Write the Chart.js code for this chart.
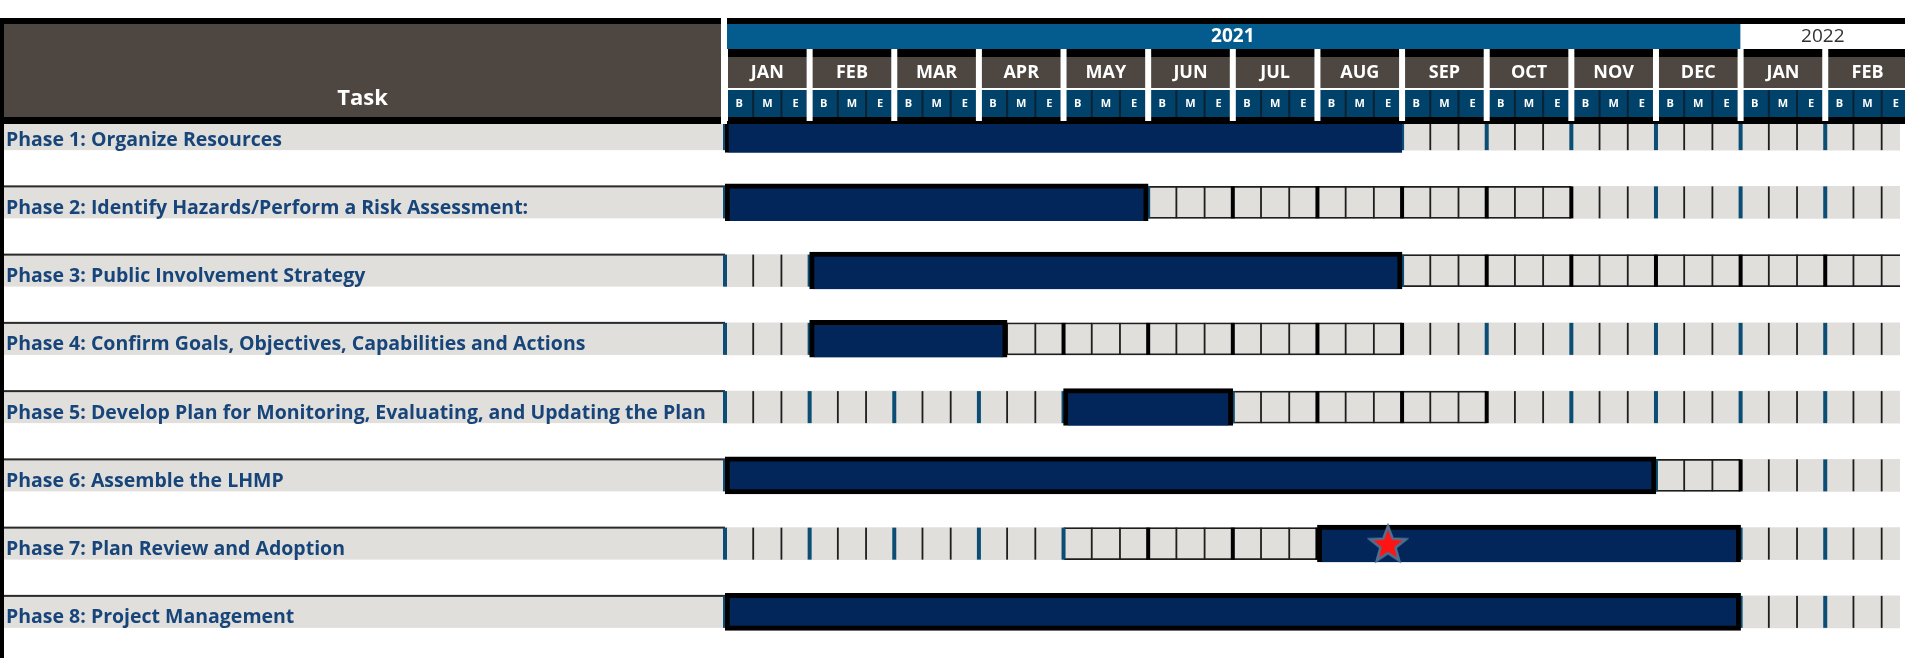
<!DOCTYPE html>
<html>
<head>
<meta charset="utf-8">
<script src="https://cdn.jsdelivr.net/npm/chart.js@4.4.1/dist/chart.umd.min.js"></script>
<style>
  html, body { margin: 0; padding: 0; background: #fff; }
  #wrap { width: 1905px; height: 658px; position: relative; }
</style>
</head>
<body>
<div id="wrap"><canvas id="chart"></canvas></div>
<script>
// time unit = one third of a month (B / M / E), counted from the start of Jan 2021
const phases = [
  'Phase 1: Organize Resources',
  'Phase 2: Identify Hazards/Perform a Risk Assessment:',
  'Phase 3: Public Involvement Strategy',
  'Phase 4: Confirm Goals, Objectives, Capabilities and Actions',
  'Phase 5: Develop Plan for Monitoring, Evaluating, and Updating the Plan',
  'Phase 6: Assemble the LHMP',
  'Phase 7: Plan Review and Adoption',
  'Phase 8: Project Management'
]
const monthLabels = ['JAN','FEB','MAR','APR','MAY','JUN','JUL','AUG','SEP','OCT','NOV','DEC','JAN','FEB']
const yearLabels = ['2021', '2022']
const periodLabels = ['B', 'M', 'E']
const taskStart = [0, 0, 3, 3, 12, 0, 21, 0]
const taskEnd   = [24, 15, 24, 10, 18, 33, 36, 36]
const openStart = [null, 15, 24, 10, 18, 33, 12, null]
const openEnd   = [null, 30, 42, 24, 27, 36, 21, null]
const milestonePhase = [phases[6]]
const milestoneAt = [23.5]
const visiblePeriods = 41.65

const NAVY = '#02255a'
const GRAY = '#e1dfdc'
const BROWN = '#4e4640'
const YEARBLUE = '#035b8e'
const BMEBLUE = '#01426a'
const LINEBLUE = '#0b4d74'
const TEXTBLUE = '#17457a'
const boxedRows = [5, 7]

function frameFor(i) {
    if (i === 0) return {left: 4, top: 0, right: 0, bottom: 0}
    if (boxedRows.includes(i)) return {left: 5, top: 5, right: 5, bottom: 5}
    return {left: 5, top: 5, right: 5, bottom: 0}
}

function starCanvas(size) {
    const c = document.createElement('canvas')
    c.width = size; c.height = size
    const g = c.getContext('2d')
    const cx = size / 2, cy = size / 2 + 1.5, R = size / 2 - 2, r = R * 0.42
    g.beginPath()
    for (let i = 0; i < 10; i++) {
        const a = -Math.PI / 2 + i * Math.PI / 5
        const rad = i % 2 ? r : R
        g.lineTo(cx + rad * Math.cos(a), cy + rad * Math.sin(a))
    }
    g.closePath()
    g.fillStyle = '#ff1414'
    g.fill()
    g.lineWidth = 2.5
    g.strokeStyle = '#4f7091'
    g.stroke()
    return c
}

const BAND = 32

const ganttPlugin = {
    id: 'gantt',
    beforeDraw(chart) {
        const {ctx, chartArea} = chart
        const ys = chart.scales.y
        ctx.save()
        ctx.fillStyle = '#fff'
        ctx.fillRect(0, 0, chart.width, chart.height)
        // label column bands
        phases.forEach((p, i) => {
            const y = ys.getPixelForValue(i)
            ctx.fillStyle = GRAY
            ctx.fillRect(4, y - BAND / 2, chartArea.left - 4, BAND)
            if (i > 0) {
                ctx.fillStyle = '#2a2a2a'
                ctx.fillRect(0, y - BAND / 2 - 1, chartArea.left, 2)
            }
        })
        ctx.fillStyle = '#000'
        ctx.fillRect(0, 18, 4, chart.height - 18)
        ctx.restore()
    },
    afterDatasetDraw(chart, args) {
        if (args.index !== 1) return
        const {ctx, chartArea} = chart
        const xs = chart.scales.x, ys = chart.scales.y
        ctx.save()
        phases.forEach((p, i) => {
            const y = ys.getPixelForValue(i)
            for (let k = 0; k <= 42; k++) {
                const x = xs.getPixelForValue(k)
                if (x > chartArea.right + 2) break
                const inOpen = openStart[i] !== null && k > openStart[i] && k <= openEnd[i]
                if (k % 3 === 0) {
                    ctx.fillStyle = inOpen ? '#000' : LINEBLUE
                    ctx.fillRect(x - 2, y - BAND / 2, 4, BAND)
                } else {
                    ctx.fillStyle = '#1e1e1e'
                    ctx.fillRect(x - 0.9, y - BAND / 2, 1.8, BAND)
                }
            }
        })
        ctx.restore()
    },
    afterDraw(chart) {
        const {ctx, chartArea} = chart
        const xs = chart.scales.x
        const R = chart.width
        const L = chartArea.left
        ctx.save()
        // label column header
        ctx.fillStyle = '#000'
        ctx.fillRect(0, 18, R, 6)
        ctx.fillStyle = BROWN
        ctx.fillRect(3, 24, L - 7, 93)
        ctx.fillStyle = '#000'
        ctx.fillRect(0, 24, 4, 100)
        ctx.fillRect(0, 117, L - 4, 7)
        ctx.fillStyle = '#fff'
        ctx.font = 'bold 22px "Open Sans"'
        ctx.textAlign = 'center'
        ctx.textBaseline = 'middle'
        ctx.fillText('Task', (L - 4) / 2 + 2, 99)

        // year band
        const yEnd = xs.getPixelForValue(36)
        ctx.fillStyle = '#000'
        ctx.fillRect(L + 2, 18, R - L, 6)
        ctx.fillStyle = YEARBLUE
        ctx.fillRect(L + 2, 24, yEnd - L - 2, 25)
        ctx.fillStyle = '#fff'
        ctx.fillRect(yEnd, 24, R - yEnd, 25)
        ctx.font = 'bold 19px "Open Sans"'
        ctx.fillText(yearLabels[0], (L + yEnd) / 2, 37)
        ctx.fillStyle = '#333'
        ctx.font = '19px "Open Sans"'
        ctx.fillText(yearLabels[1], (yEnd + R) / 2, 37)

        // month row + B/M/E row
        ctx.fillStyle = '#000'
        ctx.fillRect(L + 2, 49, R - L, 8)
        ctx.fillRect(L + 2, 117, R - L, 7)
        monthLabels.forEach((m, i) => {
            const x0 = xs.getPixelForValue(i * 3)
            const x1 = xs.getPixelForValue(i * 3 + 3)
            ctx.fillStyle = BROWN
            ctx.fillRect(x0, 57, x1 - x0, 31)
            ctx.fillStyle = BMEBLUE
            ctx.fillRect(x0, 90, x1 - x0, 27)
            ctx.fillStyle = '#fff'
            ctx.font = 'bold 18px "Open Sans"'
            ctx.fillText(m, (x0 + x1) / 2, 73)
            periodLabels.forEach((b, j) => {
                const c0 = xs.getPixelForValue(i * 3 + j)
                const c1 = xs.getPixelForValue(i * 3 + j + 1)
                if (j > 0) {
                    ctx.fillStyle = '#0c2233'
                    ctx.fillRect(c0 - 1, 90, 2, 27)
                }
                ctx.fillStyle = '#fff'
                ctx.font = 'bold 11px "Open Sans"'
                ctx.fillText(b, (c0 + c1) / 2, 104)
            })
        })
        // white separators between months
        ctx.fillStyle = '#fff'
        for (let i = 0; i <= monthLabels.length; i++) {
            const x = xs.getPixelForValue(i * 3)
            ctx.fillRect(x - 3, 49, 6, 72)
        }
        ctx.fillRect(L - 4, 18, 6, 106)
        ctx.restore()
    }
}

const ctx = document.getElementById('chart').getContext('2d')

const myChart = new Chart(ctx, {
    type: 'bar',
    data: {
        labels: phases,
        datasets: [
            {
                label: 'band',
                data: phases.map(() => [0, visiblePeriods]),
                backgroundColor: GRAY,
                borderWidth: 0,
                barThickness: BAND,
                grouped: false,
                order: 3
            },
            {
                label: 'open',
                data: phases.map((p, i) => openStart[i] === null ? null : [openStart[i], openEnd[i]]),
                backgroundColor: GRAY,
                borderColor: '#1e1e1e',
                borderWidth: {top: 1.6, bottom: 1.6, left: 0, right: 0},
                borderSkipped: false,
                barThickness: BAND,
                grouped: false,
                order: 2
            },
            {
                label: 'schedule',
                data: phases.map((p, i) => [taskStart[i], taskEnd[i]]),
                backgroundColor: NAVY,
                borderColor: '#000',
                borderWidth: c => frameFor(c.dataIndex),
                borderSkipped: false,
                barThickness: 37,
                grouped: false,
                order: 1
            },
            {
                type: 'scatter',
                label: 'milestone',
                data: milestoneAt.map((v, i) => ({x: v, y: milestonePhase[i]})),
                pointStyle: starCanvas(42),
                order: 0
            }
        ]
    },
    options: {
        indexAxis: 'y',
        responsive: true,
        maintainAspectRatio: false,
        animation: false,
        layout: {padding: {left: 6, top: 100, right: 0, bottom: 12}},
        plugins: {legend: {display: false}, tooltip: {enabled: false}},
        scales: {
            x: {
                type: 'linear',
                axis: 'x',
                min: 0,
                max: visiblePeriods,
                offset: false,
                grid: {offset: false},
                display: false
            },
            y: {
                type: 'category',
                axis: 'y',
                labels: phases,
                offset: true,
                grid: {display: false},
                border: {display: false},
                ticks: {
                    crossAlign: 'far',
                    autoSkip: false,
                    padding: 0,
                    labelOffset: 6,
                    color: TEXTBLUE,
                    font: {family: 'Open Sans', weight: 'bold', size: 19.5}
                },
                afterFit: s => { s.width = 719 }
            }
        }
    },
    plugins: [ganttPlugin]
});
</script>
</body>
</html>
